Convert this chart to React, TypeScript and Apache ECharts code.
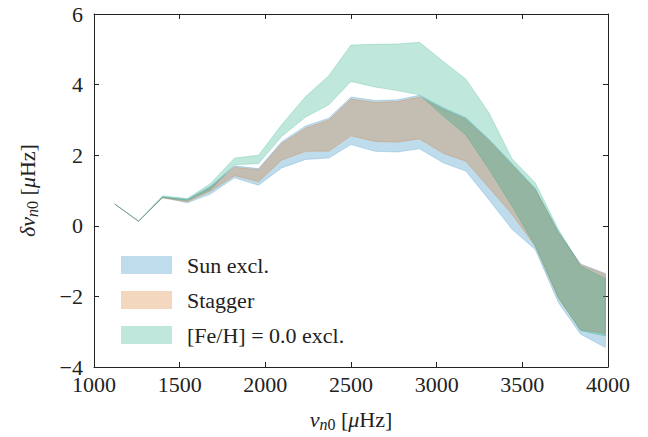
import React, { useEffect, useRef } from "react";
import * as echarts from "echarts";

// frequencies (µHz)
const freq = [1120, 1260, 1400, 1545, 1680, 1820, 1960, 2095, 2235, 2370, 2500, 2640, 2770, 2900, 3040, 3170, 3305, 3440, 3575, 3710, 3840, 3985];

// Sun excl.
const sunLow = [0.62, 0.13, 0.80, 0.65, 0.90, 1.36, 1.15, 1.64, 1.88, 1.92, 2.30, 2.11, 2.09, 2.18, 1.78, 1.55, 0.74, -0.10, -0.67, -2.17, -3.07, -3.45];
const sunHigh = [0.62, 0.13, 0.82, 0.75, 1.12, 1.70, 1.62, 2.38, 2.83, 3.05, 3.65, 3.55, 3.57, 3.70, 3.34, 3.06, 2.45, 1.76, 1.06, -0.16, -1.08, -1.35];

// Stagger
const stagLow = [0.62, 0.13, 0.79, 0.68, 0.98, 1.42, 1.25, 1.86, 2.11, 2.11, 2.55, 2.39, 2.37, 2.46, 2.05, 1.83, 1.08, 0.32, -0.57, -2.05, -2.95, -3.05];
const stagHigh = [0.62, 0.13, 0.80, 0.72, 1.08, 1.66, 1.59, 2.33, 2.77, 3.00, 3.59, 3.50, 3.52, 3.65, 3.30, 3.02, 2.41, 1.72, 1.03, -0.19, -1.10, -1.37];

// [Fe/H] = 0.0 excl.
const feLow = [0.62, 0.13, 0.80, 0.72, 1.02, 1.73, 1.76, 2.53, 3.08, 3.43, 4.09, 3.93, 3.83, 3.71, 3.10, 2.58, 1.60, 0.56, -0.57, -2.03, -2.97, -3.12];
const feHigh = [0.62, 0.13, 0.85, 0.77, 1.20, 1.92, 2.00, 2.86, 3.66, 4.25, 5.12, 5.14, 5.15, 5.20, 4.65, 4.16, 3.20, 1.90, 1.22, -0.10, -1.14, -1.49];

const seriesNames = ["Sun excl.", "Stagger", "[Fe/H] = 0.0 excl."];
const xTicks = { min: 1000, max: 4000, interval: 500 };
const yTicks = { min: -4, max: 6, interval: 2 };

const FONT = "'Liberation Serif', 'Times New Roman', serif";
const INK = "#222";
const FS = 22;

function band(name: string, low: number[], high: number[], color: string) {
  return {
    type: "custom",
    name,
    data: freq.map((f, i) => [f, low[i], high[i]]),
    encode: { x: 0, y: [1, 2] },
    itemStyle: { color },
    clip: true,
    renderItem: (params: any, api: any) => {
      if (params.dataIndex !== 0) return null;
      const top = freq.map((f, i) => api.coord([f, high[i]]));
      const bot = freq.map((f, i) => api.coord([f, low[i]])).reverse();
      return {
        type: "polygon",
        shape: { points: top.concat(bot) },
        style: { fill: color, stroke: color, lineWidth: 0.8 },
        silent: true,
      };
    },
  };
}

const rich = {
  r: { fontFamily: FONT, fontSize: FS, color: INK, lineHeight: 26 },
  i: { fontFamily: FONT, fontSize: FS, fontStyle: "italic", color: INK, lineHeight: 26 },
  si: { fontFamily: FONT, fontSize: 16, fontStyle: "italic", color: INK, lineHeight: 14, verticalAlign: "bottom" },
  s: { fontFamily: FONT, fontSize: 16, color: INK, lineHeight: 14, verticalAlign: "bottom" },
};

export default function App() {
  const ref = useRef<HTMLDivElement>(null);
  useEffect(() => {
    if (!ref.current) return;
    const chart = echarts.init(ref.current, null, { renderer: "svg" });
    const axisCommon = {
      type: "value",
      axisLine: { show: true, onZero: false, lineStyle: { color: INK, width: 1 } },
      axisTick: { show: true, inside: true, length: 5, lineStyle: { color: INK, width: 1 } },
      splitLine: { show: false },
    };
    const fmt = (v: number) => String(v).replace("-", "\u2212");
    chart.setOption({
      animation: false,
      backgroundColor: "#fff",
      textStyle: { fontFamily: FONT },
      grid: { left: 94, right: 40, top: 14, bottom: 69, containLabel: false },
      legend: {
        orient: "vertical",
        left: 116,
        top: 248,
        icon: "rect",
        itemWidth: 51,
        itemHeight: 18,
        itemGap: 11,
        data: seriesNames,
        textStyle: { fontFamily: FONT, fontSize: FS, lineHeight: 24, color: INK, padding: [0, 0, 0, 10] },
        selectedMode: false,
      },
      xAxis: [
        {
          ...axisCommon,
          position: "bottom",
          ...xTicks,
          axisLabel: { fontFamily: FONT, fontSize: FS, lineHeight: 16, color: INK, margin: 9, formatter: fmt },
          name: "{i|ν}{si|n}{s|0}{r| [}{i|μ}{r|Hz]}",
          nameLocation: "middle",
          nameGap: 39,
          nameTextStyle: { rich },
        },
        {
          ...axisCommon,
          position: "top",
          ...xTicks,
          axisLabel: { show: false },
        },
      ],
      yAxis: [
        {
          ...axisCommon,
          position: "left",
          ...yTicks,
          axisLabel: { fontFamily: FONT, fontSize: FS, lineHeight: 16, color: INK, margin: 11, formatter: fmt },
          name: "{i|δν}{si|n}{s|0}{r| [}{i|μ}{r|Hz]}",
          nameLocation: "middle",
          nameRotate: 90,
          nameGap: 54,
          nameTextStyle: { rich },
        },
        {
          ...axisCommon,
          position: "right",
          ...yTicks,
          axisLabel: { show: false },
        },
      ],
      series: [
        band(seriesNames[0], sunLow, sunHigh, "rgba(0,114,178,0.25)"),
        band(seriesNames[1], stagLow, stagHigh, "rgba(213,94,0,0.25)"),
        band(seriesNames[2], feLow, feHigh, "rgba(0,158,115,0.25)"),
      ],
    });
    return () => chart.dispose();
  }, []);
  return <div ref={ref} style={{ position: "fixed", left: 0, top: 0, width: 648, height: 437 }} />;
}
